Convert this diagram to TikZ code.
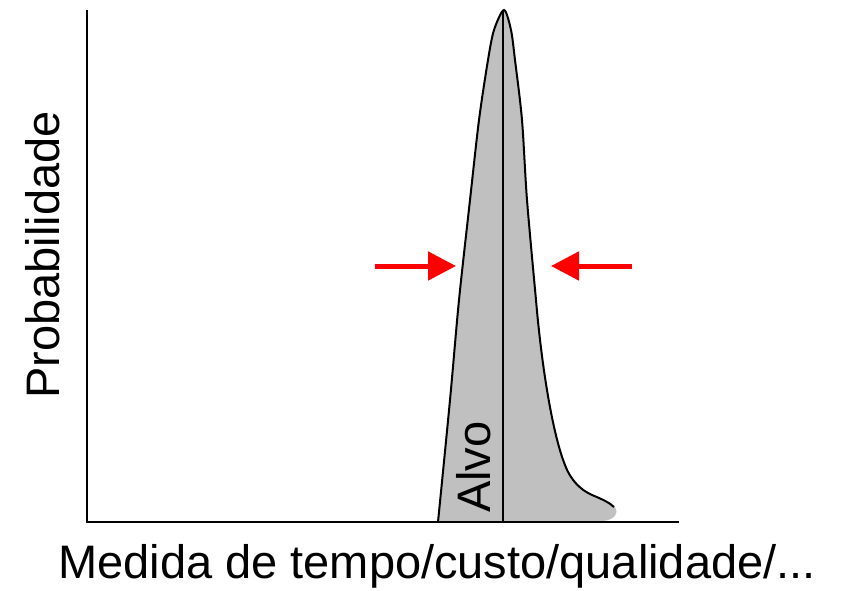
\documentclass[tikz,border=0pt]{standalone}
\usepackage{fontspec}
\setmainfont{Liberation Sans}
\usetikzlibrary{arrows.meta}
\definecolor{distgray}{RGB}{192,192,192}
\definecolor{arrred}{RGB}{255,0,0}
\tikzset{
  axis/.style={line width=2pt, black},
  curve/.style={line width=2pt, black},
  bigtext/.style={inner sep=0pt, font=\fontsize{47}{50}\selectfont},
  redarrow/.style={line width=5pt, arrred, -{Triangle[length=28pt,width=28pt]}},
}
\begin{document}
\begin{tikzpicture}[x=1pt,y=-1pt]
\useasboundingbox (0,0) rectangle (847,591);
% fill
\fill[distgray] plot[smooth, tension=0.5] coordinates {(438,522) (450,400) (459,300) (470,200) (479,120) (488,60) (494,30) (504,10) (511,30) (515,60) (522,120) (527,200) (536,300)}
  .. controls (542,370) and (553,435) .. (565,465)
  .. controls (571,481) and (581,490) .. (592,495)
  .. controls (602,499) and (610,503) .. (615,507)
  .. controls (619,512) and (615,520) .. (603,521) -- (438,522) -- cycle;
% curve outline
\draw[curve] plot[smooth, tension=0.5] coordinates {(438,522) (450,400) (459,300) (470,200) (479,120) (488,60) (494,30) (504,10) (511,30) (515,60) (522,120) (527,200) (536,300)}
  .. controls (542,370) and (553,435) .. (565,465)
  .. controls (571,481) and (581,490) .. (592,495)
  .. controls (602,499) and (610,503) .. (614,507);
% target line
\coordinate (ttop) at (503,10);
\coordinate (tbot) at (503,522);
\draw[axis] (ttop) -- (tbot);
% axes
\coordinate (ytop) at (87,10);
\coordinate (origin) at (87,522);
\coordinate (xend) at (679,522);
\draw[axis] (ytop) -- (origin) -- (xend);
% arrows
\coordinate (la) at (375,266);
\coordinate (lb) at (456,266);
\coordinate (ra) at (632,266);
\coordinate (rb) at (551,266);
\draw[redarrow] (la) -- (lb);
\draw[redarrow] (ra) -- (rb);
% labels
\node[bigtext, rotate=90, anchor=base west] (alvo) at (490,513) {Alvo};
\node[bigtext, rotate=90, anchor=base west] (ylab) at (59,399) {Probabilidade};
\node[bigtext, anchor=base west] (xlab) at (58,578) {Medida de tempo/custo/qualidade/...};
\end{tikzpicture}
\end{document}
